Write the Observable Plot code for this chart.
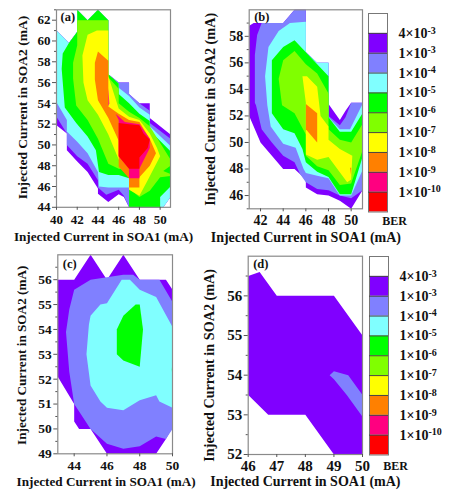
<!DOCTYPE html>
<html><head><meta charset="utf-8">
<script src="https://cdn.jsdelivr.net/npm/d3@7"></script>
<script src="https://cdn.jsdelivr.net/npm/@observablehq/plot@0.6"></script>
<style>
html,body{margin:0;padding:0;background:#fff}
#root{position:relative;width:449px;height:490px;overflow:hidden}
#root svg{position:absolute;overflow:visible;background:transparent}
</style></head><body><div id="root"></div>
<script>
const berLabels=["1×10^-10","1×10^-9","1×10^-8","1×10^-7","1×10^-6","1×10^-5","1×10^-4","1×10^-3","4×10^-3"];
const berColors=["#ff0000","#ff0080","#ff8000","#ffff00","#80ff00","#00ff00","#80ffff","#8080ff","#8000ff","#ffffff"];
const xTitle="Injected Current in SOA1 (mA)";
const yTitle="Injected Current in SOA2 (mA)";

// Panel (a): regions of BER below each level, [SOA1 mA, SOA2 mA]
const a1=[[40,61],[41.2,59.8],[42,60.9],[42,63],[43,62],[44,63],[45,62],[45,56.8],[46,56],[47,56],[47,54.9],[48,54],[49,54],[49,52.6],[51,51],[51,45],[50.3,44],[47,44],[46.5,45],[46,45.25],[45,44.5],[44,45.3],[44,45.8],[43,47.4],[42,48.4],[41,49.5],[41,51.1],[40,51.9]];
const a2=[[40,61],[41.2,59.8],[42,60.9],[42,63],[43,62],[44,63],[45,62],[45,56.8],[46,56],[47,56],[47,54.9],[48,54],[49,53.3],[49,52.1],[51,50.6],[51,45],[50.3,44],[47,44],[46.5,45.1],[46,45.7],[44.8,45.2],[44,45.9],[44,46.6],[43,48.2],[42,48.9],[41,50],[41,51.1],[40,52.7]];
const a3=[[40,61],[41.2,59.8],[42,60.9],[42,63],[43,62],[44,63],[45,62],[45,56.8],[46,55.9],[46,55.5],[47,54.7],[48,53.6],[49,52.9],[49,51.8],[51,49.9],[51,45],[50.3,44],[47,44],[47,45.9],[46,45.9],[45,45.9],[44.1,46],[44,47.4],[43,49.2],[42,50.3],[41,51.3],[41,52.4],[40,54.1]];
const a4=[[42,60.9],[42,63],[43,62],[44,63],[45,62],[45,56.8],[46,55.9],[46,54.9],[47,54],[48,53],[49,52.3],[49,51.4],[51,49.4],[51,46],[50,45],[50,44],[47,44],[47,46.8],[46,47.1],[45,47.1],[44.1,47.4],[43.8,49.5],[43,50.8],[41.9,52.1],[40.8,53.6],[40.5,57.3],[40.6,58.8],[41.2,59.8]];
const a5=[[42,62],[45,62],[45,56.5],[46,55.4],[46,54],[47,53.2],[48,52.6],[49,51.8],[51,48.6],[51,48],[50.3,47.5],[51,47.2],[51,47],[50,46.9],[49,45.6],[48,45],[47,45.8],[47,47.6],[46,47.7],[45,48.2],[44,50.6],[43,52.4],[41.9,53.8],[41.6,56.4],[41.6,57.9],[42,59.6]];
const a6=[[43,60.6],[43.9,61],[45,61],[45,56.6],[46,53.5],[47,52.7],[48,52.4],[49,51.1],[49.7,49.7],[50,48.9],[48.8,46.6],[48,45.1],[47,45.7],[47,46.9],[46,48.6],[45,51],[44,52.9],[43,54.3],[42.6,56],[42.5,58.6]];
const a7=[[44,59],[45,58.1],[45,53.7],[46,53],[47,52.4],[48,52.2],[49,50.6],[49.6,49.2],[49,48],[48,46.9],[48,45.9],[47,45.9],[47,46.8],[46,47.9],[46,49],[46,50.4],[45,52.6],[44,54.3],[43.7,56.3],[43.7,57.9]];
const a8=[[45.7,53],[46.6,52.2],[48,52],[49,50.6],[49,49.7],[48,47.7],[48,46.8],[47,46.8],[47,47.7],[46,48.9],[46,52.4]];
const a8sliver=[[45,55.5],[45.1,54],[45,53.7]];
const a9=[[46,52.1],[47,52],[48,51.9],[48.4,51.1],[49,50.5],[48.8,49.7],[48,48.8],[48,47.7],[47,47.7],[46,48.9]];

// Panel (b)
const b1=[[41,58.8],[41.4,59],[44,59],[45,60],[46,60],[46,56.8],[47,56],[48,56],[48,52.9],[49,51.7],[49.5,52.4],[50,53],[51,53],[51,46.4],[50,45],[49,45.6],[48,46],[47,46.1],[46,46.6],[46,47.2],[45.5,47.6],[45,48],[44,48],[43,49],[42,50],[41,52]];
const b2=[[42.1,59],[44,59],[45,60],[46,60],[46,56.8],[47,56],[48,56],[48,52],[49,51.3],[49.5,51.9],[50,53],[51,53],[51,46.4],[50,45.8],[49,46],[48,46.4],[47,46.5],[46,47],[45.5,47.6],[45,48.5],[44,49],[43,50],[42.1,51],[41.6,52.8],[41.5,53],[41.5,56.6],[41.7,58.1]];
const b3=[[44.6,59],[46,59.1],[46,56.8],[47,56],[48,56],[48,51.9],[49,51],[49.9,51],[51,52.9],[51,47.9],[50,46],[49,46],[48,47.3],[47,47.5],[46,47.7],[45.8,48],[45.1,49.6],[44,49.9],[42.9,51.2],[42.6,52.8],[42.4,55],[42.7,57.2],[43.6,58.4]];
const b4=[[45,57.7],[46,56.8],[47,55.9],[48,55],[48,51.9],[49,50.8],[50,50.8],[51,52.2],[51,48.9],[50,46.1],[49,46.1],[48,47.4],[47,47.8],[46,48.5],[45.7,49.5],[45,50.7],[44,51],[43,52.2],[43,56.2],[44,57.2]];
const b5=[[45,56.9],[46,55.9],[47,55.2],[48,53.7],[48,51],[49,50.2],[50,50],[51,51.4],[51,49.4],[50,46.9],[49,46.8],[48,47.9],[47,48.2],[46,49],[46,50.6],[45,52.2],[43.9,52.8],[43.6,54.8],[44,56.2]];
const b6=[[45.7,55],[46.1,55],[47,54.2],[47.3,52],[48,51.2],[48,50.2],[49,49.5],[50.1,49],[50,47.2],[49.65,47],[48,48.9],[47,48.7],[46,49.1],[46,53]];
const b7=[[46,52.9],[47,52.2],[47,50],[46,51]];
const b7dot=[[49.9,48.1],[50,48.1],[50,47.5]];

// Panel (c)
const c1=[[43,56],[44,56],[45,57],[46,56],[47,57],[48,56],[49.6,56],[50,55.6],[50,50.1],[49.6,49.6],[49,49],[46,49],[45,50],[44.3,50],[44,50.3],[44,51],[43,52.1]];
const c2=[[44,55.6],[45,56],[46,56.1],[47,56.2],[47.6,56.2],[48,56],[49.2,56],[50,55.1],[50,50],[49.6,49.6],[49,49.7],[48,49.3],[47,49.2],[46,49.4],[45,50],[44,51],[43.7,52.3],[43.5,53.9],[43.7,54.8]];
const c3=[[46.9,56],[47.4,56],[48,55.6],[49,55.3],[50,54.1],[50,50.85],[49.2,51.1],[49,51.35],[48,51.15],[47,50.75],[46,50.85],[45.6,51.1],[45,51.75],[44.75,53],[44.9,54.2],[45,54.55],[45.6,55],[46,55.05]];
const c4=[[47,54.55],[47.75,55],[48,55],[48.2,54],[48,52.5],[47,52.75],[46.6,53],[46.6,54]];
const c4edge=[[50,52.75],[49.96,52.4],[50,51.95]];

// Panel (d)
const d1=[[46,56.5],[46.4,56.6],[47,56],[49,56],[50,55],[50,52],[49,52],[48,53],[46.7,53],[46,53.5]];
const d2=[[48.85,54],[49,54.1],[49.5,54],[50,53.5],[50,52.95],[49.45,53.5],[49,53.9]];

const font="'Liberation Serif',serif";
const root=document.getElementById("root");
function place(svg,l,t){svg.style.left=l+"px";svg.style.top=t+"px";root.appendChild(svg);}
const range=(a,b,s=1)=>d3.range(a,b+s/2,s);

function contourPanel(o){
  const marks=[];
  o.regions.forEach(([pts,col])=>marks.push(Plot.line(pts,{x:d=>d[0],y:d=>d[1],fill:col,stroke:"none",curve:"linear-closed"})));
  const fs=o.fs;
  const plot=Plot.plot({
    width:o.w,height:o.h,
    marginLeft:o.ml,marginRight:o.w-o.ml-o.pw,marginTop:o.mt,marginBottom:o.h-o.mt-o.ph,
    x:{domain:o.x,type:"linear"},y:{domain:o.y,type:"linear"},
    style:{fontFamily:font,fontWeight:"bold",fontSize:fs+"px",color:"#111",background:"transparent"},
    marks:[
      ...marks,
      Plot.frame({stroke:"#8a8a8a",strokeWidth:1.2}),
      Plot.axisX({ticks:o.xt,tickSize:3,tickPadding:o.xpad,tickFormat:d=>d,label:null,fontSize:fs,stroke:"#555"}),
      Plot.axisY({ticks:o.yt,tickSize:4,tickPadding:2,tickFormat:d=>d,label:null,fontSize:fs,stroke:"#555"}),
      Plot.axisY({ticks:o.ym,tickSize:2,tickFormat:null,text:null,label:null,stroke:"#555"}),
      Plot.text([xTitle],{frameAnchor:"bottom",text:d=>d,dx:o.xdx,dy:o.xdy,fontSize:o.tx,lineAnchor:"middle"}),
      Plot.text([yTitle],{frameAnchor:"left",text:d=>d,rotate:-90,textAnchor:"middle",dx:o.ydx,dy:o.ydy,fontSize:o.ty,lineAnchor:"middle"}),
      Plot.text([o.tag],{frameAnchor:"top-left",text:d=>d,dx:o.tdx,dy:o.tdy,fontSize:12.5,textAnchor:"start",lineAnchor:"middle"})
    ]
  });
  place(plot,o.left,o.top);
}

function colorbar(left,top,barH,berDy){
  const cells=berColors.map((c,i)=>({i,c}));
  const labs=berLabels.map((t,i)=>({i:i+1,t}));
  const plot=Plot.plot({
    width:81,height:barH+25,marginLeft:0,marginRight:62,marginTop:0,marginBottom:25,
    x:{domain:[0,1],axis:null},y:{domain:[0,10],axis:null},
    style:{fontFamily:font,fontWeight:"bold",color:"#111",background:"transparent"},
    marks:[
      Plot.rect(cells,{x1:0,x2:1,y1:d=>d.i,y2:d=>d.i+1,fill:d=>d.c}),
      Plot.frame({stroke:"#777",strokeWidth:1}),
      Plot.tickY(labs,{y:"i",x1:1,x2:1.25,stroke:"#444",strokeWidth:1}),
      Plot.text(labs,{y:"i",x:1,text:"t",textAnchor:"start",dx:11,fontSize:14}),
      Plot.text(["BER"],{frameAnchor:"bottom",text:d=>d,dx:16.5,dy:berDy,fontSize:12,lineAnchor:"middle"})
    ]
  });
  // turn "1×10^-3" into a mantissa with a raised exponent
  d3.select(plot).selectAll("text").each(function(){
    const tspan=d3.select(this).select("tspan");
    const host=tspan.empty()?d3.select(this):tspan;
    const s=host.text();
    if(!s.includes("^")) return;
    const [m,e]=s.split("^");
    host.text(m);
    host.append("tspan").attr("dy","-0.42em").attr("font-size","10px").text(e);
  });
  place(plot,left,top);
}

const col=i=>berColors[8-i];
contourPanel({left:0,top:0,w:200,h:245,ml:56,mt:9.3,pw:114,ph:197.5,x:[40,51],y:[44,63],
  xt:range(40,50,2),yt:range(44,62,2),ym:range(45,63,2),fs:13,xpad:4,tx:13.2,ty:13.5,
  regions:[[a1,col(0)],[a2,col(1)],[a3,col(2)],[a4,col(3)],[a5,col(4)],[a6,col(5)],[a7,col(6)],[a8,col(7)],[a8sliver,col(7)],[a9,col(8)]],
  xdx:-10,xdy:29,ydx:-34,ydy:-1,tag:"(a)",tdx:4,tdy:7});
contourPanel({left:200,top:0,w:170,h:245,ml:48.7,mt:9.3,pw:113.3,ph:199,x:[41,51],y:[45,60],
  xt:range(42,50,2),yt:range(46,58,2),ym:range(45,59,1).filter(v=>v%2===1),fs:14,xpad:3,tx:14,ty:14.2,
  regions:[[b1,col(0)],[b2,col(1)],[b3,col(2)],[b4,col(3)],[b5,col(4)],[b6,col(5)],[b7,col(6)],[b7dot,col(6)]],
  xdx:0,xdy:28.5,ydx:-38.7,ydy:0,tag:"(b)",tdx:5,tdy:7});
contourPanel({left:0,top:245,w:200,h:245,ml:57.3,mt:9.3,pw:114.7,ph:199,x:[43,50],y:[49,57],
  xt:range(44,50,2),yt:range(49,56,1),ym:range(49.5,56.5,1),fs:13.5,xpad:4,tx:13.2,ty:13.2,
  regions:[[c1,col(0)],[c2,col(1)],[c3,col(2)],[c4,col(3)],[c4edge,col(3)]],
  xdx:-9,xdy:28,ydx:-36,ydy:1,tag:"(c)",tdx:5,tdy:9});
contourPanel({left:200,top:245,w:170,h:245,ml:47.7,mt:10.7,pw:114.3,ph:198.3,x:[46,50],y:[52,57],
  xt:range(46,50,1),yt:range(52,56,1),ym:range(52.5,56.5,1),fs:15,xpad:3,tx:14,ty:14.2,
  regions:[[d1,col(0)],[d2,col(1)]],
  xdx:0,xdy:27.5,ydx:-38.5,ydy:10,tag:"(d)",tdx:5,tdy:8});
colorbar(368,12.7,198.5,9.5);
colorbar(368.7,255.7,198.5,11);
</script></body></html>
